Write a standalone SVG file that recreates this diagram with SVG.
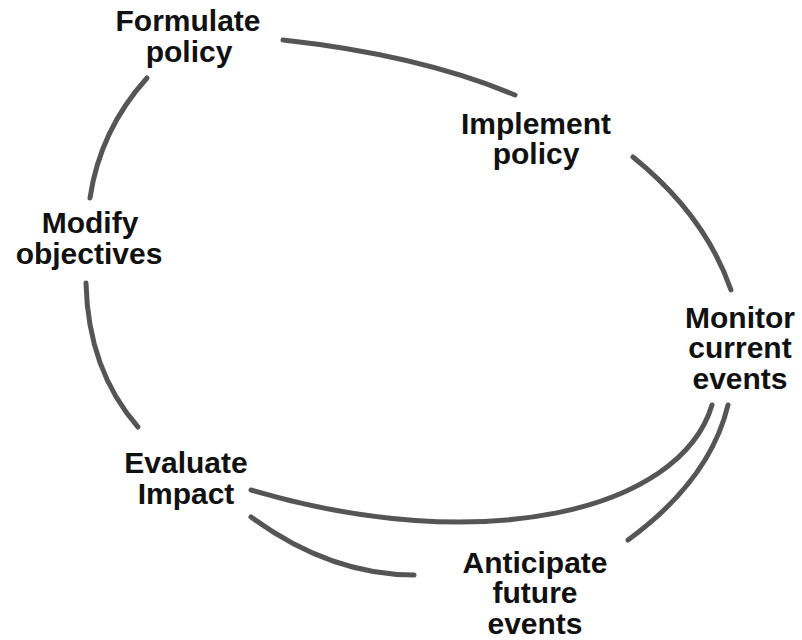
<svg xmlns="http://www.w3.org/2000/svg" width="802" height="640" viewBox="0 0 802 640">
<style>
.lbl{font-family:"Liberation Sans",Arial,sans-serif;font-weight:bold;font-size:30px;fill:#111;text-anchor:middle}
.arc{fill:none;stroke:#555;stroke-width:5;stroke-linecap:round}
</style>
<rect width="802" height="640" fill="#fff"/>
<g id="connectors">
<path class="arc" d="M283,40 Q420,55 515,95"/>
<path class="arc" d="M147,78 Q100,130 90,198"/>
<path class="arc" d="M633,157 Q705,215 731,290"/>
<path class="arc" d="M86,283 Q88,370 138,427"/>
<path class="arc" d="M712,405 C680,512 480,558 251,490"/>
<path class="arc" d="M728,405 Q710,480 628,540"/>
<path class="arc" d="M251,517 Q330,575 414,575"/>
</g>
<g id="formulate"><text class="lbl" x="188" y="31">Formulate</text><text class="lbl" x="189" y="62">policy</text></g>
<g id="implement"><text class="lbl" x="536" y="134">Implement</text><text class="lbl" x="536" y="164">policy</text></g>
<g id="modify"><text class="lbl" x="90" y="233">Modify</text><text class="lbl" x="89" y="264">objectives</text></g>
<g id="monitor"><text class="lbl" x="740" y="328">Monitor</text><text class="lbl" x="740" y="358">current</text><text class="lbl" x="740" y="389">events</text></g>
<g id="evaluate"><text class="lbl" x="186" y="473">Evaluate</text><text class="lbl" x="186" y="504">Impact</text></g>
<g id="anticipate"><text class="lbl" x="535" y="573">Anticipate</text><text class="lbl" x="535" y="603">future</text><text class="lbl" x="535" y="634">events</text></g>
</svg>
